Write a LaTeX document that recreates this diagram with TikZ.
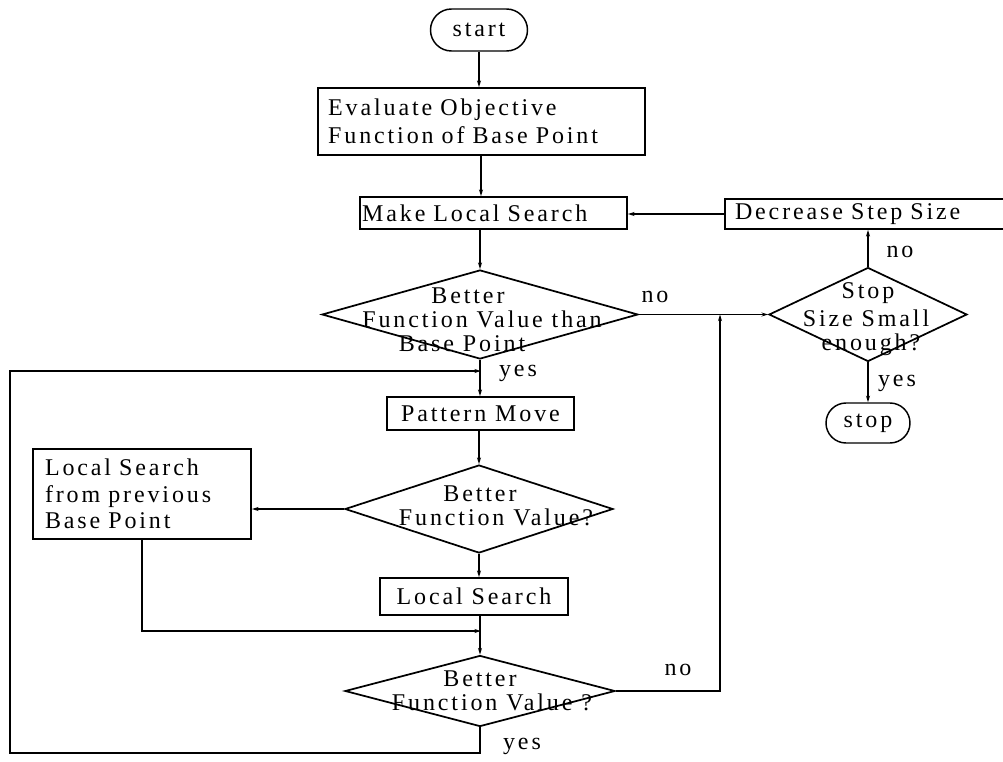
\documentclass[tikz,border=0pt]{standalone}
\usepackage{fontspec}
\setmainfont{Liberation Serif}[LetterSpace=12]
\usetikzlibrary{shapes.geometric,arrows.meta}
\begin{document}
\begin{tikzpicture}[x=0.75pt,y=-0.75pt,
  box/.style={draw,line width=1.3pt,rectangle,inner sep=0pt,font=\fontsize{18}{21}\selectfont},
  dia/.style={draw,line width=1.3pt,diamond,inner sep=0pt,aspect=1},
  pill/.style={draw,line width=1.1pt,rectangle,inner sep=0pt,font=\fontsize{18}{21}\selectfont},
  txt/.style={inner sep=0pt,font=\fontsize{18}{21}\selectfont},
  conn/.style={line width=0.9pt},
  arr/.style={conn,-{Stealth[length=5pt,width=3pt]}},
]
\clip (0,0) rectangle (1003,761);
\coordinate (ax) at (481,0);
% nodes
\node[pill,rounded corners=15.75pt,minimum width=72.75pt,minimum height=31.5pt] (start) at (479,30) {start};
\node[box,minimum width=245.25pt,minimum height=50.25pt,text width=230pt,align=left,
      font=\fontsize{18}{21}\selectfont] (eval) at (481.5,121.5) {Evaluate Objective\\Function of Base Point};
\node[box,minimum width=200.25pt,minimum height=24pt,text width=197pt,align=left] (mls) at (493.5,213) {Make Local Search};
\node[box,minimum width=216pt,minimum height=22.5pt,text width=201pt,align=left] (dec) at (869,214) {Decrease Step Size};
\node[dia,minimum width=237pt,minimum height=66.75pt] (d1) at (480,314.5) {};
\node[txt] (d1a) at (468,296) {Better};
\node[txt] (d1b) at (482,319) {Function Value than};
\node[txt] (d1c) at (462,344) {Base Point};
\node[dia,minimum width=148.5pt,minimum height=70.5pt] (sd) at (868,314.5) {};
\node[txt] (sda) at (868,293) {Stop};
\node[txt] (sdb) at (866,318) {Size Small};
\node[txt] (sdc) at (871,345) {enough?};
\node[pill,rounded corners=15pt,minimum width=63pt,minimum height=30pt] (stop) at (868,423) {stop};
\node[box,minimum width=140.25pt,minimum height=24.75pt] (pm) at (480.5,413.5) {Pattern Move};
\node[dia,minimum width=201pt,minimum height=66pt] (d2) at (479,509) {};
\node[txt] (d2a) at (480,494) {Better};
\node[txt] (d2b) at (496,517) {Function Value?};
\node[box,minimum width=163.5pt,minimum height=67.5pt,text width=145.5pt,align=left,
      font=\fontsize{18}{20}\selectfont] (lsp) at (142,494) {Local Search\\from previous\\Base Point};
\node[box,minimum width=141pt,minimum height=27.75pt] (ls) at (474,596.5) {Local Search};
\node[dia,minimum width=202.5pt,minimum height=53.25pt] (d3) at (480,691) {};
\node[txt] (d3a) at (480,679) {Better};
\node[txt] (d3b) at (492,702) {Function Value ?};
% labels
\node[txt] (l1) at (655,297) {no};
\node[txt] (l2) at (518,373) {yes};
\node[txt] (l3) at (900,252) {no};
\node[txt] (l4) at (897,383) {yes};
\node[txt] (l5) at (678,670) {no};
\node[txt] (l6) at (522,746) {yes};
% junction coordinates
\coordinate (j2) at (481,631);
\coordinate (j3) at (720,314.5);
\coordinate (fb1) at (10,753);
\coordinate (fbj) at (481,371);
% connectors
\draw[arr] (start.south) -- (start.south |- eval.north);
\draw[arr] (eval.south -| ax) -- (mls.north -| ax);
\draw[arr] (mls.south -| d1.north) -- (d1.north);
\draw[arr] (d1.south) -- (d1.south |- pm.north);
\draw[arr] (pm.south -| d2.north) -- (d2.north);
\draw[arr] (d2.west) -- (d2.west -| lsp.east);
\draw[arr] (d2.south) -- (d2.south |- ls.north);
\draw[arr] (lsp.south) |- (j2);
\draw[arr] (ls.south -| d3.north) -- (d3.north);
\draw[arr] (d3.south) |- (fb1) |- (fbj);
\draw[arr] (d3.east) -| (j3);
\draw[arr] (d1.east) -- (sd.west);
\draw[arr] (sd.north) -- (sd.north |- dec.south);
\draw[arr] (dec.west) -- (dec.west -| mls.east);
\draw[arr] (sd.south) -- (stop.north);
\end{tikzpicture}
\end{document}
